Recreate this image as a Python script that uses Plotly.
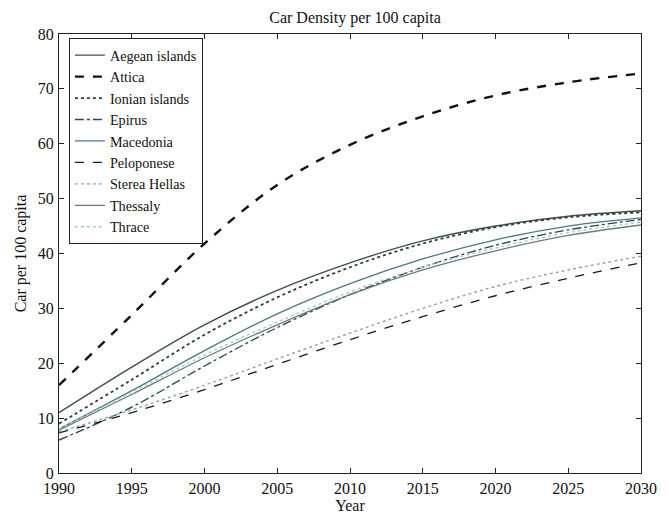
import plotly.graph_objects as go

years = [1990, 1995, 2000, 2005, 2010, 2015, 2020, 2025, 2030]
aegean = [11.0, 19.3, 27.0, 33.3, 38.3, 42.3, 45.0, 46.8, 47.8]
attica = [16.0, 28.8, 41.8, 52.5, 59.8, 65.0, 68.8, 71.2, 72.8]
ionian = [9.0, 17.0, 25.2, 32.0, 37.5, 41.8, 44.8, 46.6, 47.5]
epirus = [6.0, 12.0, 19.5, 26.5, 32.5, 37.5, 41.5, 44.3, 46.2]
macedonia = [8.0, 15.0, 22.3, 29.0, 34.5, 39.0, 42.5, 45.0, 46.5]
peloponese = [7.3, 11.0, 15.2, 19.8, 24.3, 28.5, 32.3, 35.5, 38.3]
sterea = [7.5, 11.5, 16.0, 20.8, 25.5, 30.0, 34.0, 37.0, 39.5]
thessaly = [7.8, 14.3, 21.0, 27.0, 32.5, 37.0, 40.5, 43.3, 45.2]
thrace = [8.0, 14.7, 21.5, 27.5, 33.0, 37.5, 41.0, 43.8, 45.7]

series = [
    ("Aegean islands", aegean, "#3d4f55", "solid", 1.4),
    ("Attica", attica, "#111111", "dash", 2.4),
    ("Ionian islands", ionian, "#2f3a40", "dot", 1.8),
    ("Epirus", epirus, "#2a4650", "dashdot", 1.3),
    ("Macedonia", macedonia, "#4a7a86", "solid", 1.3),
    ("Peloponese", peloponese, "#1a1a1a", "dash", 1.3),
    ("Sterea Hellas", sterea, "#8aa8b0", "dot", 1.4),
    ("Thessaly", thessaly, "#6c7a7c", "solid", 1.3),
    ("Thrace", thrace, "#a8c8d2", "dot", 1.4),
]

fig = go.Figure()
for name, vals, color, dash, w in series:
    fig.add_trace(go.Scatter(
        x=years, y=vals, name=name, mode="lines",
        line=dict(color=color, dash=dash, width=w, shape="spline", smoothing=1.0),
    ))

font = "Liberation Serif, Times New Roman, serif"
# page body has an 8px default margin, so the figure is sized to fit the window
fig.update_layout(
    width=661, height=514,
    margin=dict(l=47, r=18, t=26, b=46),
    paper_bgcolor="white", plot_bgcolor="white",
    font=dict(family=font, size=16, color="#111111"),
    title=dict(text="Car Density per 100 capita", x=0.525, xanchor="center",
               y=0.982, yanchor="middle", font=dict(size=16, family=font)),
    showlegend=True,
    legend=dict(x=0.017, y=0.99, xanchor="left", yanchor="top",
                bordercolor="#222222", borderwidth=1, bgcolor="white",
                font=dict(size=14.2, family=font), tracegroupgap=0,
                itemwidth=30),
    xaxis=dict(range=[1990, 2030], tickvals=years, ticks="inside", ticklen=5,
               showgrid=False, zeroline=False, showline=True, linecolor="#222222",
               linewidth=1.2, mirror="ticks", tickcolor="#222222",
               ticklabelstandoff=1,
               title=dict(text="Year", standoff=2, font=dict(size=16))),
    yaxis=dict(range=[0, 80], dtick=10, ticks="inside", ticklen=5,
               showgrid=False, zeroline=False, showline=True, linecolor="#222222",
               linewidth=1.2, mirror="ticks", tickcolor="#222222",
               ticklabelstandoff=1,
               title=dict(text="Car per 100 capita", standoff=7, font=dict(size=16))),
)

fig.write_html("out.html")
